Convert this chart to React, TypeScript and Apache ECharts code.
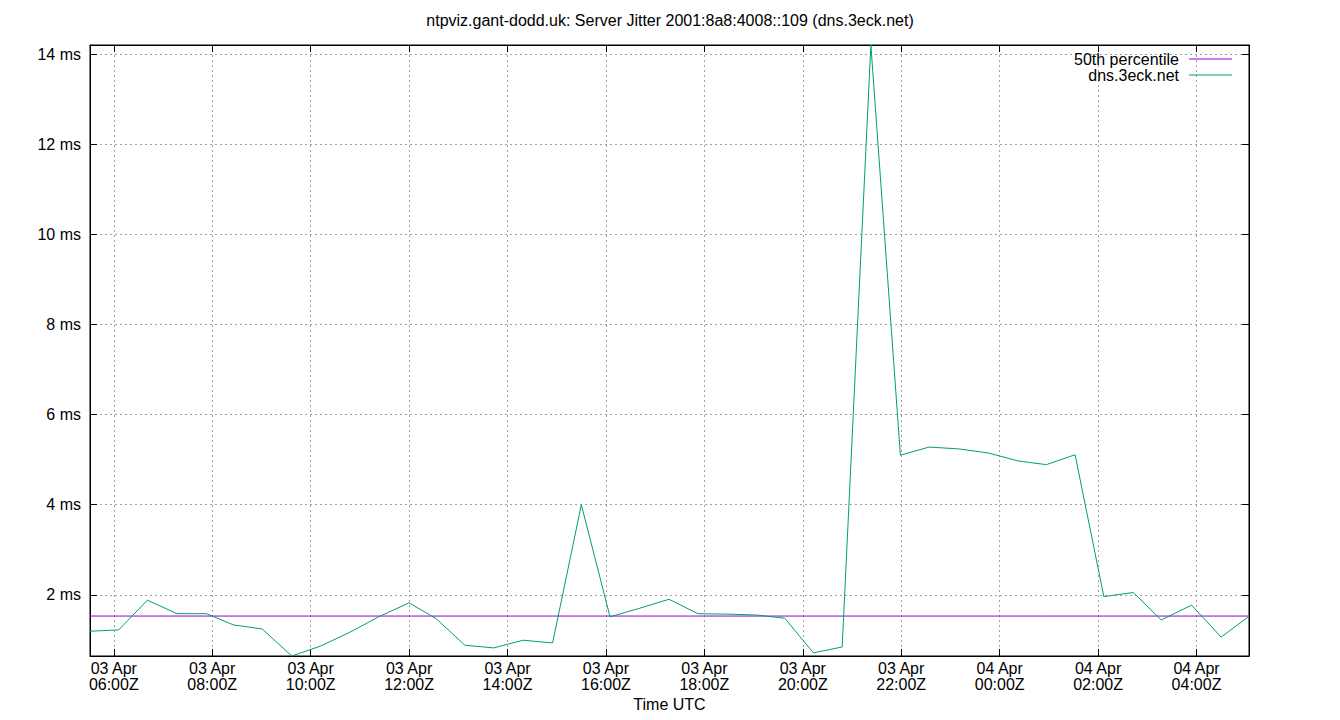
import React, { useEffect, useRef } from "react";
import * as echarts from "echarts";

// Sample times (UTC), "DD HH:MM" with DD = day of April
const times: string[] = [
  "03 05:31", "03 06:06", "03 06:41", "03 07:17", "03 07:53", "03 08:26", "03 09:01",
  "03 09:37", "03 10:12", "03 10:47", "03 11:24", "03 12:00", "03 12:33", "03 13:08",
  "03 13:43", "03 14:19", "03 14:55", "03 15:30", "03 16:05", "03 16:41", "03 17:17",
  "03 17:52", "03 18:28", "03 19:03", "03 19:38", "03 20:13", "03 20:48", "03 21:23",
  "03 21:59", "03 22:34", "03 23:10", "03 23:46", "04 00:23", "04 00:57", "04 01:32",
  "04 02:07", "04 02:43", "04 03:17", "04 03:54", "04 04:30", "04 05:04",
];

// Server jitter in ms
const jitter: number[] = [
  1.19, 1.22, 1.88, 1.58, 1.58, 1.33, 1.24,
  0.64, 0.86, 1.16, 1.52, 1.82, 1.47, 0.88,
  0.82, 0.99, 0.93, 4.0, 1.51, 1.7, 1.9,
  1.58, 1.57, 1.55, 1.48, 0.71, 0.84, 14.21,
  5.1, 5.28, 5.24, 5.15, 4.97, 4.89, 5.11,
  1.96, 2.05, 1.44, 1.77, 1.06, 1.52,
];

const percentile50 = 1.527;

const seriesNames = ["50th percentile", "dns.3eck.net"];
const seriesColors = ["#9400d3", "#009e73"];
const monthLabel = "Apr";
const firstDay = 3;

const toHours = (s: string): number => {
  const [d, hm] = s.split(" ");
  const [h, m] = hm.split(":").map(Number);
  return (Number(d) - firstDay) * 24 + h + m / 60;
};

const pad2 = (n: number) => (n < 10 ? "0" + n : String(n));

export default function App() {
  const ref = useRef<HTMLDivElement>(null);

  useEffect(() => {
    if (!ref.current) return;
    const chart = echarts.init(ref.current, undefined, { renderer: "svg" });
    const hours = times.map(toHours);
    const xMin = Math.min(...hours);
    const xMax = Math.max(...hours);
    const yMin = Math.min(...jitter);
    const yMax = Math.max(...jitter);
    const font = "Liberation Sans, Arial, sans-serif";
    const fs = 16;

    const xLabel = (v: number) => {
      if (Math.abs(v - Math.round(v)) > 1e-6) return "";
      const r = Math.round(v);
      if (r % 2 !== 0) return "";
      const day = firstDay + Math.floor(r / 24);
      const h = ((r % 24) + 24) % 24;
      return `${pad2(day)} ${monthLabel}\n${pad2(h)}:00Z`;
    };
    const yLabel = (v: number) => {
      if (Math.abs(v - Math.round(v)) > 1e-6) return "";
      const r = Math.round(v);
      if (r % 2 !== 0) return "";
      return `${r} ms`;
    };

    const gridLine = { show: true, lineStyle: { color: "#a0a0a0", type: [2, 3] as any, width: 1 } };

    chart.setOption({
      animation: false,
      backgroundColor: "#fff",
      title: {
        text: "ntpviz.gant-dodd.uk: Server Jitter 2001:8a8:4008::109 (dns.3eck.net)",
        left: "center",
        top: 12,
        padding: 0,
        textStyle: { fontFamily: font, fontSize: fs, fontWeight: "normal", color: "#000" },
      },
      legend: {
        orient: "vertical",
        align: "right",
        right: 108,
        top: 51,
        padding: 0,
        itemGap: 0,
        itemWidth: 43,
        itemHeight: 1,
        icon: "rect",
        data: seriesNames.map((n, i) => ({ name: n, itemStyle: { color: seriesColors[i] } })),
        textStyle: { fontFamily: font, fontSize: fs, color: "#000", lineHeight: 15, padding: [0, 5, 0, 0] },
      },
      grid: {
        left: 90,
        right: 91,
        top: 45,
        bottom: 64,
        show: true,
        borderColor: "#000",
        borderWidth: 1,
        backgroundColor: "transparent",
      },
      xAxis: [
        {
          type: "value",
          min: xMin,
          max: xMax,
          minInterval: 2,
          maxInterval: 2,
          splitNumber: 12,
          name: "Time UTC",
          nameLocation: "middle",
          nameGap: 40,
          nameTextStyle: { fontFamily: font, fontSize: fs, color: "#000" },
          axisLine: { show: true, lineStyle: { color: "#000", width: 1 } },
          axisTick: { show: true, inside: true, length: 7, lineStyle: { color: "#000" } },
          axisLabel: {
            formatter: xLabel,
            fontFamily: font,
            fontSize: fs,
            lineHeight: 16,
            color: "#000",
            margin: 4,
            showMinLabel: false,
            showMaxLabel: false,
            hideOverlap: false,
          },
          splitLine: gridLine,
        },
        {
          type: "value",
          position: "top",
          min: xMin,
          max: xMax,
          minInterval: 2,
          maxInterval: 2,
          splitNumber: 12,
          axisLine: { show: true, lineStyle: { color: "#000", width: 1 } },
          axisTick: { show: true, inside: true, length: 7, lineStyle: { color: "#000" } },
          axisLabel: { show: false },
          splitLine: { show: false },
        },
      ],
      yAxis: [
        {
          type: "value",
          min: yMin,
          max: yMax,
          minInterval: 2,
          maxInterval: 2,
          splitNumber: 7,
          axisLine: { show: true, lineStyle: { color: "#000", width: 1 } },
          axisTick: { show: true, inside: true, length: 7, lineStyle: { color: "#000" } },
          axisLabel: {
            formatter: yLabel,
            fontFamily: font,
            fontSize: fs,
            color: "#000",
            margin: 9,
            showMinLabel: false,
            showMaxLabel: false,
          },
          splitLine: gridLine,
        },
        {
          type: "value",
          position: "right",
          min: yMin,
          max: yMax,
          minInterval: 2,
          maxInterval: 2,
          splitNumber: 7,
          axisLine: { show: true, lineStyle: { color: "#000", width: 1 } },
          axisTick: { show: true, inside: true, length: 7, lineStyle: { color: "#000" } },
          axisLabel: { show: false },
          splitLine: { show: false },
        },
      ],
      series: [
        {
          name: seriesNames[0],
          type: "line",
          xAxisIndex: 0,
          yAxisIndex: 0,
          data: hours.map((h) => [h, percentile50]),
          showSymbol: false,
          symbol: "none",
          itemStyle: { color: seriesColors[0] },
          lineStyle: { color: seriesColors[0], width: 1 },
        },
        {
          name: seriesNames[1],
          type: "line",
          xAxisIndex: 0,
          yAxisIndex: 0,
          data: hours.map((h, i) => [h, jitter[i]]),
          showSymbol: false,
          symbol: "none",
          itemStyle: { color: seriesColors[1] },
          lineStyle: { color: seriesColors[1], width: 1 },
        },
      ],
    });
    return () => chart.dispose();
  }, []);

  return (
    <div
      ref={ref}
      style={{ position: "absolute", left: 0, top: 0, width: 1340, height: 720, background: "#fff" }}
    />
  );
}
